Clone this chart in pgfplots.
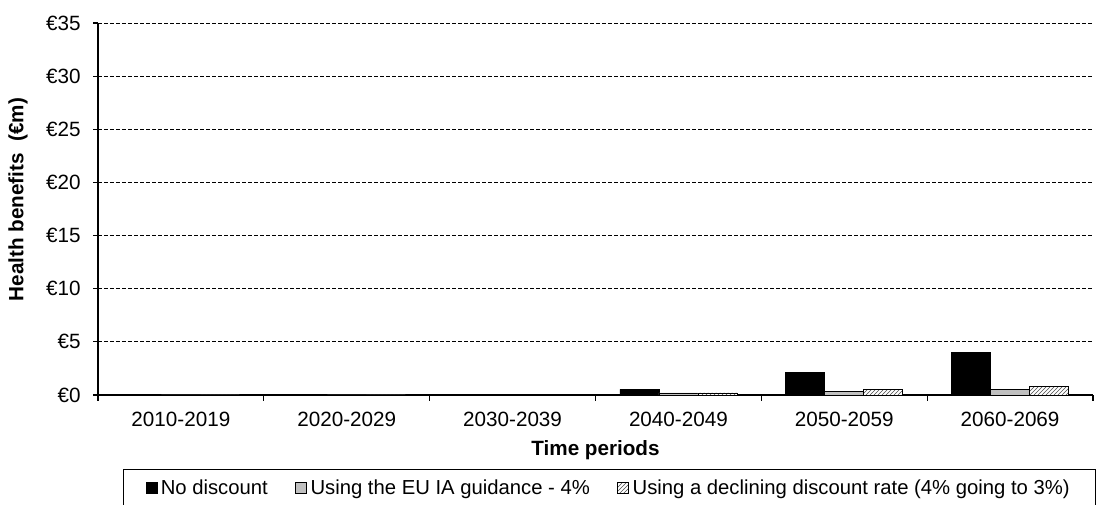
\documentclass[border=0pt]{standalone}
\usepackage{fontspec}
\setmainfont{Liberation Sans}
\usepackage{pgfplots}
\pgfplotsset{compat=1.18}
\usetikzlibrary{patterns}
\definecolor{lgrey}{RGB}{192,192,192}
\begin{document}
\begin{tikzpicture}
\begin{axis}[
  at={(0pt,0pt)}, anchor=south west,
  scale only axis, width=746.25pt, height=279pt,
  xmin=-0.5, xmax=5.5, ymin=0, ymax=35,
  axis x line*=bottom, axis y line*=left,
  axis line style={black, line width=1pt},
  ytick={0,5,...,35},
  yticklabels={€0,€5,€10,€15,€20,€25,€30,€35},
  ymajorgrids, grid style={black, line width=0.6pt, dash pattern=on 3pt off 1.5pt},
  xtick={0,...,5},
  xticklabels={2010-2019,2020-2029,2030-2039,2040-2049,2050-2059,2060-2069},
  major x tick style={draw=none},
  minor xtick={-0.5,0.5,...,5.5},
  minor x tick style={black, line width=0.8pt},
  x tick style={black}, y tick style={black, line width=0.8pt},
  tick align=outside, minor tick length=4.5pt, major tick length=3.5pt,
  ticklabel style={font=\fontsize{15.5}{18}\selectfont},
  yticklabel style={xshift=-6pt},
  xticklabel style={yshift=-6pt},
  ylabel={\textbf{Health benefits\ \ (€m)}},
  ylabel style={font=\fontsize{15.5}{18}\selectfont, at={(axis description cs:-0.0804,0.525)}, anchor=center, rotate=0},
  xlabel={\textbf{Time periods}},
  xlabel style={font=\fontsize{15.5}{18}\selectfont, at={(axis description cs:0.5,-0.147)}, anchor=center},
  ybar, bar width=29.25pt,
  legend columns=3,
  legend style={at={(axis description cs:0.0251,-0.199)}, anchor=north west,
    draw=black, line width=0.8pt, font=\fontsize{15.2}{18}\selectfont,
    nodes={inner xsep=2.6pt, inner ysep=1.5pt},
    inner xsep=16.5pt, inner ysep=6.5pt,
    /tikz/every even column/.append style={column sep=18pt}},
  legend image code/.code={\draw[#1, line width=0.6pt] (0pt,-3.4pt) rectangle (8.25pt,4.6pt);},
]
\addplot[fill=black, draw=black, bar shift=-29.25pt] coordinates {(0,0) (1,0) (2,0.08) (3,0.53) (4,2.1) (5,3.98)};
\addplot[fill=lgrey, draw=black, line width=0.4pt, bar shift=0pt] coordinates {(0,0) (1,0) (2,0.05) (3,0.2) (4,0.35) (5,0.5)};
\addplot[fill=white, draw=black, line width=0.4pt, postaction={pattern=north east lines, pattern color=black!70}, bar shift=29.25pt] coordinates {(0,0) (1,0) (2,0.05) (3,0.2) (4,0.5) (5,0.82)};
\legend{No discount,Using the EU IA guidance - 4\%,Using a declining discount rate (4\% going to 3\%)\hspace{40pt}}
\end{axis}
\pgfresetboundingbox
\path[use as bounding box] (-73.5pt,-82.5pt) rectangle (750.75pt,296.25pt);
\end{tikzpicture}
\end{document}
